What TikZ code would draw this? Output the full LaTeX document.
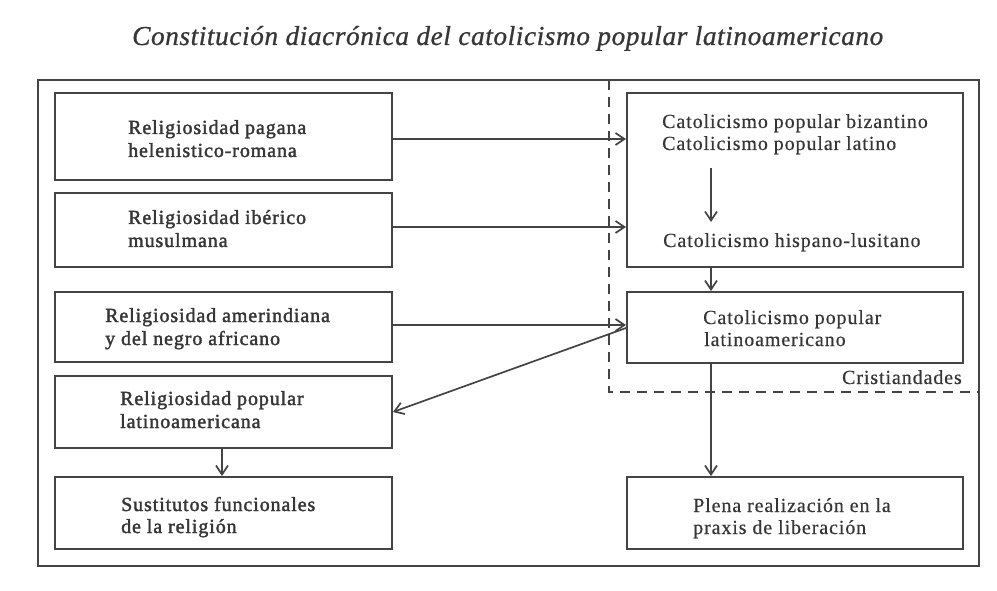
\documentclass[tikz,border=0pt]{standalone}
\usepackage{fontspec}
\setmainfont{Liberation Serif}[LetterSpace=4.5,FakeBold=0.5]
\newfontfamily\semib{Liberation Serif}[LetterSpace=4.5,FakeBold=1.8]
\newfontfamily\titlefont{Liberation Serif Italic}[FakeBold=0.8,LetterSpace=2]
\usetikzlibrary{arrows.meta}
\definecolor{ink}{HTML}{444444}
\definecolor{txtc}{HTML}{363636}
\tikzset{
  box/.style={draw=ink, line width=1.9pt, rectangle, inner sep=0pt},
  lt/.style={anchor=base west, inner sep=0pt, text=txtc, font=\fontsize{20}{23}\semib},
  rt/.style={anchor=base west, inner sep=0pt, text=txtc, font=\fontsize{20}{23}\selectfont},
  arr/.style={draw=ink, line width=1.7pt, -{Straight Barb[length=9pt,width=12pt]}},
  frame/.style={draw=ink, line width=1.8pt},
  dashline/.style={draw=ink, line width=1.7pt, dash pattern=on 10pt off 7pt}
}
\begin{document}
\begin{tikzpicture}[x=1pt,y=-1pt]
\useasboundingbox (0,0) rectangle (997,591);
% title
\node[anchor=base west, inner sep=0pt, text=txtc] (title) at (132,45)
  {\resizebox{751pt}{!}{\titlefont\fontsize{20}{24}\selectfont Constitución diacrónica del catolicismo popular latinoamericano}};
% outer frame
\draw[frame] (38,80) rectangle (979,566);
% dashed region
\coordinate (d1) at (609,80);
\coordinate (d2) at (609,392);
\coordinate (d3) at (979,392);
\draw[dashline] (d1) -- (d2) -- (d3);
\node[anchor=base east, inner sep=0pt, text=txtc, font=\fontsize{20}{23}\selectfont] (crist) at (962,384) {Cristiandades};
% left boxes
\node[box, minimum width=337pt, minimum height=87pt] (l1) at (223.5,136.5) {};
\node[box, minimum width=337pt, minimum height=74pt] (l2) at (223.5,230) {};
\node[box, minimum width=337pt, minimum height=70pt] (l3) at (223.5,327) {};
\node[box, minimum width=337pt, minimum height=72pt] (l4) at (223.5,412) {};
\node[box, minimum width=337pt, minimum height=72pt] (l5) at (223.5,513) {};
% right boxes
\node[box, minimum width=336pt, minimum height=174pt] (r1) at (795,180) {};
\node[box, minimum width=336pt, minimum height=71pt] (r2) at (795,327.5) {};
\node[box, minimum width=336pt, minimum height=72pt] (r3) at (795,513) {};
% left texts
\node[lt] (l1a) at (128,134) {Religiosidad pagana};
\node[lt] (l1b) at (128,157) {helenistico-romana};
\node[lt] (l2a) at (128,224) {Religiosidad ibérico};
\node[lt] (l2b) at (128,247) {musulmana};
\node[lt] (l3a) at (105,322) {Religiosidad amerindiana};
\node[lt] (l3b) at (105,345) {y del negro africano};
\node[lt] (l4a) at (120,405) {Religiosidad popular};
\node[lt] (l4b) at (120,428) {latinoamericana};
\node[lt] (l5a) at (121,511) {Sustitutos funcionales};
\node[lt] (l5b) at (121,533) {de la religión};
% right texts
\node[rt] (r1a) at (662,128) {Catolicismo popular bizantino};
\node[rt] (r1b) at (662,150) {Catolicismo popular latino};
\node[rt] (r1c) at (663,247) {Catolicismo hispano-lusitano};
\node[rt] (r2a) at (703,324) {Catolicismo popular};
\node[rt] (r2b) at (704,346) {latinoamericano};
\node[rt] (r3a) at (693,512) {Plena realización en la};
\node[rt] (r3b) at (693,534) {praxis de liberación};
% arrows
\coordinate (ax) at (711,0);
\coordinate (i1) at (711,168);
\coordinate (i2) at (711,222);
\draw[arr] ([yshift=-2.5pt]l1.east) -- ([yshift=-2.5pt]l1.east -| r1.west);
\draw[arr] ([yshift=3pt]l2.east) -- ([yshift=3pt]l2.east -| r1.west);
\draw[arr] ([yshift=2pt]l3.east) -- ([yshift=2pt]l3.east -| r2.west);
\draw[arr] ([yshift=-0.5pt]r2.west) -- (l4.east);
\draw[arr] (i1) -- (i2);
\draw[arr] (r1.south -| ax) -- (r2.north -| ax);
\draw[arr] (r2.south -| ax) -- (r3.north -| ax);
\draw[arr] (l4.south -| 222,0) -- (l5.north -| 222,0);
\end{tikzpicture}
\end{document}
